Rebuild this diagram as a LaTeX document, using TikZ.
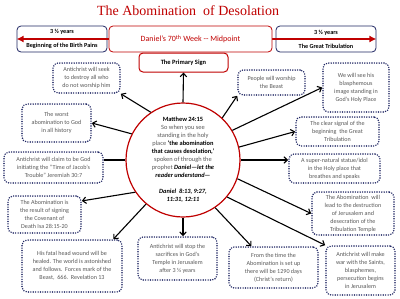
\documentclass[tikz,border=0pt]{standalone}
\usepackage{fontspec}
\setmainfont{Carlito}
\newfontfamily\titlefont{Liberation Serif}
\usetikzlibrary{arrows.meta}
\definecolor{darkred}{RGB}{192,0,0}
\definecolor{navy}{RGB}{31,38,99}
\definecolor{txtgray}{RGB}{89,89,89}
\newcommand{\bk}[1]{\textcolor{black}{\textbf{#1}}}
\newcommand{\bki}[1]{\textcolor{black}{\textbf{\textit{#1}}}}
\tikzset{
  dotbox/.style={draw=navy,line width=1.6pt,dash pattern=on 0pt off 2.4pt,line cap=round,
    rounded corners=5pt,fill=white,align=center,text=txtgray,inner sep=1pt,
    font=\fontsize{6.1}{8}\selectfont},
  topbox/.style={draw=#1,line width=0.8pt,rounded corners=4pt,fill=white,align=center,inner sep=1pt},
  link/.style={line width=1.1pt,-{Straight Barb[length=3.5pt,width=6.5pt]}}
}

\begin{document}
\begin{tikzpicture}[x=1pt,y=-1pt]
  \path[fill=white] (0,0) rectangle (400,298);
  \useasboundingbox (0,0) rectangle (400,298);
  \node[font=\titlefont\fontsize{14}{16}\selectfont,text=darkred] (title) at (188,11) {The Abomination\ \ of Desolation};
  \node[topbox=navy,minimum width=90pt,minimum height=26pt,font=\bfseries\fontsize{6.2}{14}\selectfont] (birth) at (62,39) {3 ½ years\\Beginning of the Birth Pains};
  \node[topbox=navy,minimum width=100pt,minimum height=26pt,font=\bfseries\fontsize{6.2}{14}\selectfont] (trib) at (326,39) {3 ½ years\\The Great Tribulation};
  \draw[line width=1.6pt,darkred,{Latex[length=7pt,width=7pt]}-{Latex[length=7pt,width=7pt]}] (birth.west) -- (trib.east);
  \node[topbox=darkred,minimum width=163pt,minimum height=26pt,text=darkred,font=\fontsize{8}{10}\selectfont] (week) at (190.5,39) {Daniel’s 70\textsuperscript{th} Week -{}- Midpoint};
  \node[topbox=darkred,line width=1pt,minimum width=89pt,minimum height=19pt,font=\bfseries\fontsize{6.5}{8}\selectfont] (sign) at (183.5,62.5) {The Primary Sign};

  \node[circle,draw=darkred,line width=1.2pt,fill=white,minimum size=114pt] (mt) at (183,160) {};
  \node[align=center,text=txtgray,font=\fontsize{6.4}{8}\selectfont] (mttext) at (mt.center) {\bk{Matthew 24:15}\\So when you see\\standing in the holy\\place \bk{‘the abomination}\\\bk{that causes desolation,’}\\spoken of through the\\prophet \bki{Daniel—let the}\\\bki{reader understand—}\\[8pt]\bki{Daniel\ \ 8:13, 9:27,}\\\bki{11:31, 12:11}};

  \node[dotbox,minimum width=67pt,minimum height=30pt] (seek) at (86.5,78) {Antichrist will seek\\to destroy all who\\do not worship him};
  \node[dotbox,minimum width=69pt,minimum height=38pt] (worst) at (56.5,123) {The worst\\abomination to God\\in all history};
  \node[dotbox,minimum width=99pt,minimum height=31pt] (claim) at (53.5,167.5) {Antichrist will claim to be God\\initiating the “Time of Jacob’s\\Trouble” Jeremiah 30:7};
  \node[dotbox,minimum width=73pt,minimum height=37pt] (result) at (44.5,214.5) {The Abomination is\\the result of signing\\the Covenant of\\Death Isa 28:15-20};
  \node[dotbox,minimum width=100pt,minimum height=52pt] (fatal) at (72,266) {His fatal head wound will be\\healed. The world is astonished\\and follows.\ \ Forces mark of the\\Beast,\ \ 666.\ \ Revelation 13};
  \node[dotbox,minimum width=79pt,minimum height=43pt] (stop) at (177.5,258.5) {Antichrist will stop the\\sacrifices in God’s\\Temple in Jerusalem\\after 3 ½ years};
  \node[dotbox,minimum width=89pt,minimum height=41pt] (time) at (273.5,267.5) {From the time the\\Abomination is set up\\there will be 1290 days\\(Christ’s return)};
  \node[dotbox,minimum width=69pt,minimum height=49pt] (war) at (360.5,270.5) {Antichrist will make\\war with the Saints,\\blasphemes,\\persecution begins\\in Jerusalem};
  \node[dotbox,minimum width=82pt,minimum height=43pt] (lead) at (353,213.5) {The Abomination\ \ will\\lead to the destruction\\of Jerusalem and\\desecration of the\\Tribulation Temple};
  \node[dotbox,minimum width=91pt,minimum height=29pt] (idol) at (334.5,168.5) {A super-natural statue/idol\\in the Holy place that\\breathes and speaks};
  \node[dotbox,minimum width=83pt,minimum height=29pt] (signal) at (337.5,131.5) {The clear signal of the\\beginning\ \ the Great\\Tribulation};
  \node[dotbox,minimum width=66pt,minimum height=49pt] (see) at (356,87.5) {We will see his\\blasphemous\\image standing in\\God’s Holy Place};
  \node[dotbox,minimum width=67pt,minimum height=25pt] (worship) at (271.5,82.5) {People will worship\\the Beast};

  \draw[link] (mt.north) -- (sign.south);
  \draw[link] (mt.124) -- (seek.south east);
  \draw[link] (mt.153) -- (worst.east);
  \draw[line width=1.1pt] (mt.180) -- (mt.180 -| claim.east);
  \draw[link] (mt.214) -- (result.20);
  \draw[link] (mt.230) -- (fatal.33);
  \draw[link] (mt.south) -- (mt.south |- stop.north);
  \draw[link] (mt.304) -- (time.136);
  \draw[link] (mt.320) -- (war.north west);
  \draw[link] (mt.341) -- (lead.west);
  \draw[link] (mt.0) -- (mt.0 -| idol.west);
  \draw[link] (mt.13) -- (signal.west);
  \draw[link] (mt.31) -- (see.west);
  \draw[link] (mt.47) -- (worship.south west);
\end{tikzpicture}
\end{document}
